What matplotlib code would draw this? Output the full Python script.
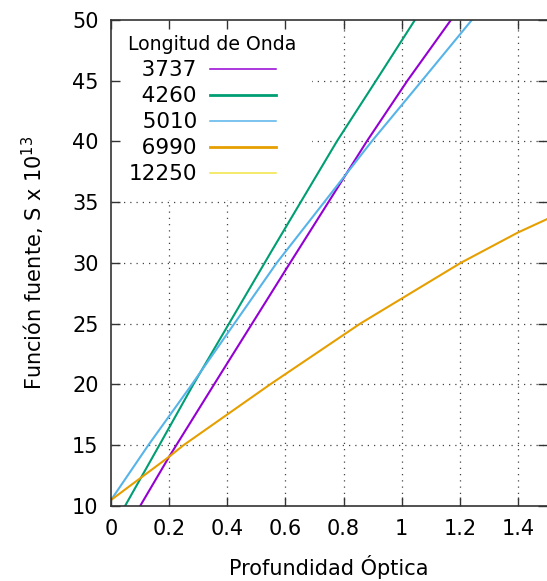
import numpy as np
import matplotlib
matplotlib.use("Agg")
import matplotlib.pyplot as plt

# datos (profundidad optica, funcion fuente)
t_3737 = [0.10, 0.20, 0.37, 0.616, 0.88, 1.02, 1.17]
s_3737 = [10.0, 14.06, 20.6, 30.0, 40.0, 45.0, 50.0]

t_4260 = [0.048, 0.166, 0.283, 0.553, 0.777, 0.912, 1.046]
s_4260 = [10.0, 15.0, 20.0, 31.0, 40.0, 45.0, 50.0]

t_5010 = [0.0, 0.128, 0.278, 0.57, 0.897, 1.07, 1.242]
s_5010 = [10.5, 15.0, 20.0, 30.0, 40.0, 45.0, 50.0]

t_6990 = [0.0, 0.20, 0.249, 0.547, 0.857, 1.203, 1.40, 1.50]
s_6990 = [10.5, 14.06, 15.0, 20.0, 25.0, 30.0, 32.5, 33.6]

# 12250 no aparece dentro del rango dibujado
t_12250 = []
s_12250 = []

xticks = [0, 0.2, 0.4, 0.6, 0.8, 1, 1.2, 1.4]
xticklabels = ["0", "0.2", "0.4", "0.6", "0.8", "1", "1.2", "1.4"]
yticks = [10, 15, 20, 25, 30, 35, 40, 45, 50]

plt.rcParams['font.family'] = ['DejaVu Sans']

fig = plt.figure(figsize=(5.47, 5.81), dpi=100)
ax = fig.add_axes([0.203, 0.129, 0.797, 0.837])
ax.set_axisbelow(False)

# rejilla punteada (debajo de la leyenda)
for x in xticks[1:]:
    ax.axvline(x, linestyle=(0, (1, 4)), linewidth=0.9, color="#444444", zorder=1)
for y in yticks[1:-1]:
    ax.axhline(y, linestyle=(0, (1, 4)), linewidth=0.9, color="#444444", zorder=1)

fs = "\u2007"  # espacio de cifra para alinear a la derecha
z = 2.3
ax.plot(t_3737, s_3737, color="#9400d3", lw=1.5, label=fs + "3737", zorder=z)
ax.plot(t_4260, s_4260, color="#009e73", lw=1.5, label=fs + "4260", zorder=z)
ax.plot(t_5010, s_5010, color="#56b4e9", lw=1.5, label=fs + "5010", zorder=z)
ax.plot(t_6990, s_6990, color="#e69f00", lw=1.5, label=fs + "6990", zorder=z)
ax.plot(t_12250, s_12250, color="#f0e442", lw=1.2, label="12250", zorder=z)

ax.set_xlim(0, 1.5)
ax.set_ylim(10, 50)
ax.set_xticks(xticks)
ax.set_xticklabels(xticklabels)
ax.set_yticks(yticks)
ax.tick_params(direction="in", length=6.5, width=1.0, color="#333333",
               labelsize=15, pad=9, top=True, right=True)

for sp in ax.spines.values():
    sp.set_color("#333333")
    sp.set_linewidth(1.2)
ax.spines["right"].set_visible(False)

ax.set_xlabel("Profundidad Óptica", fontsize=15, labelpad=12)
ax.set_ylabel("Función fuente, S x 10$^{13}$", fontsize=15, labelpad=18)

leg = ax.legend(loc="upper left", bbox_to_anchor=(0.004, 1.0), borderaxespad=0.0,
                markerfirst=False, fontsize=15.5, frameon=True, fancybox=False,
                handlelength=3.1, handletextpad=0.6, labelspacing=0.28,
                borderpad=0.72, title="Longitud de Onda",
                title_fontsize=13.6, alignment="left")
leg.get_frame().set_edgecolor("none")
leg.get_frame().set_facecolor("white")
leg.get_frame().set_alpha(1.0)
leg.set_zorder(2.1)
lw_leg = [1.1, 2.0, 1.1, 2.0, 1.1]
for h, w in zip(leg.get_lines(), lw_leg):
    h.set_linewidth(w)

fig.savefig("out.png", dpi=100)
